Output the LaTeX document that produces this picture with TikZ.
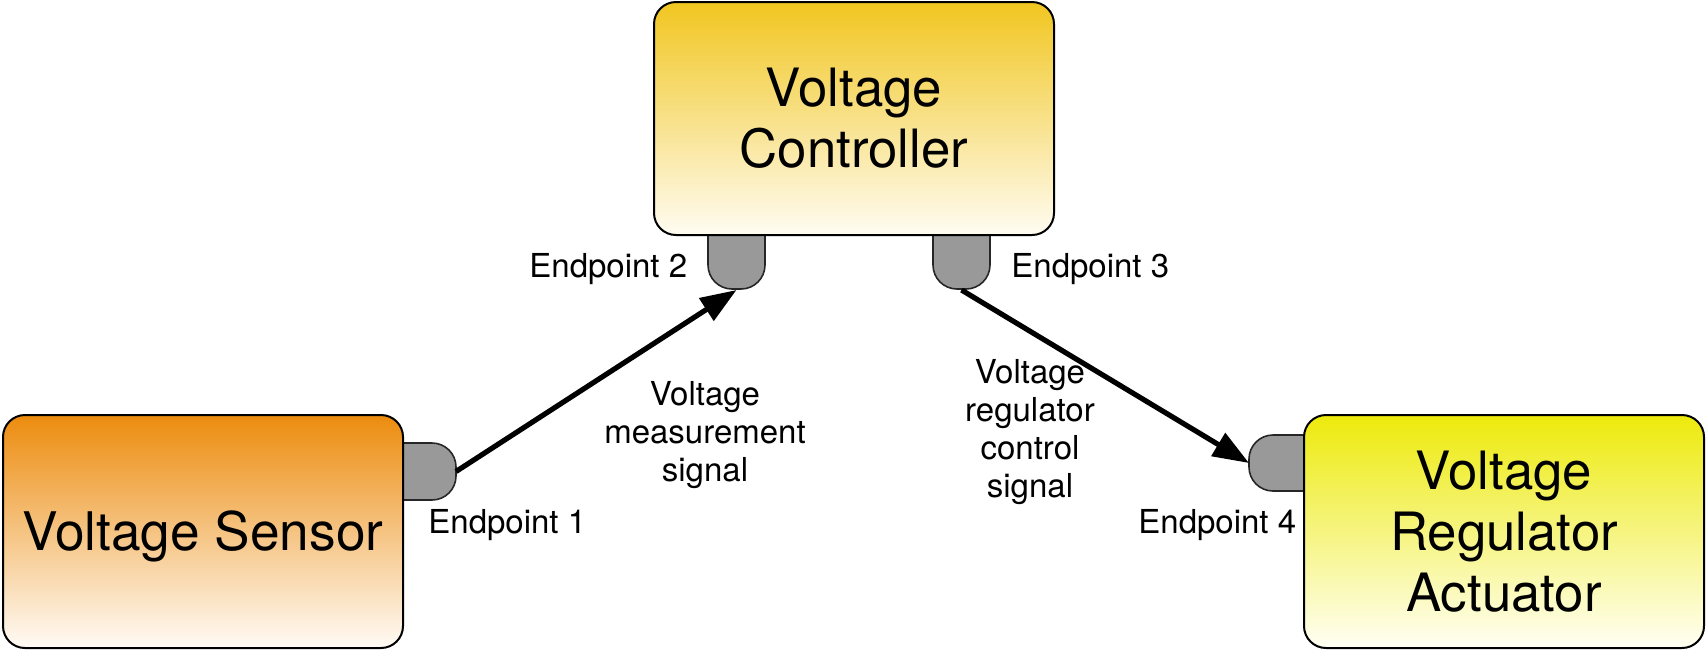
\documentclass[tikz,border=0pt]{standalone}
\usepackage{fontspec}
\setmainfont{TeX Gyre Heros}
\usetikzlibrary{arrows.meta}
\definecolor{sensortop}{RGB}{236,140,14}
\definecolor{sensorbot}{RGB}{255,251,246}
\definecolor{ctrltop}{RGB}{241,198,32}
\definecolor{ctrlbot}{RGB}{255,252,242}
\definecolor{acttop}{RGB}{237,234,12}
\definecolor{actbot}{RGB}{255,255,244}
\definecolor{portgray}{RGB}{153,153,153}
\tikzset{
  box/.style={draw=black, line width=1pt, rounded corners=11pt, inner sep=0pt,
    minimum width=200pt, minimum height=116.5pt, align=center,
    font=\fontsize{26.4pt}{30.5pt}\selectfont},
  port/.style={draw=black!85, line width=0.8pt, fill=portgray, rounded corners=12pt},
  eplabel/.style={inner sep=0pt, font=\fontsize{16.5pt}{19pt}\selectfont},
  siglabel/.style={inner sep=0pt, align=center, font=\fontsize{16.5pt}{19pt}\selectfont},
  flow/.style={line width=2.6pt, -{Triangle[length=18pt,width=13pt]}},
}
\begin{document}
\begin{tikzpicture}[x=0.5pt,y=-0.5pt]
\useasboundingbox (0,0) rectangle (1707,650);
% ports (drawn under the boxes)
\draw[port] (390,443) -- (456,443) -- (456,500) -- (390,500);
\draw[port] (708,225) -- (708,289) -- (765,289) -- (765,225);
\draw[port] (933,225) -- (933,289) -- (990,289) -- (990,225);
\draw[port] (1318,435) -- (1249,435) -- (1249,491) -- (1318,491);
\coordinate (ep1) at (456,471.5);
\coordinate (ep2) at (736.5,290);
\coordinate (ep3) at (961.5,290);
\coordinate (ep4) at (1249,463);
% boxes
\node[box, top color=sensortop, bottom color=sensorbot,
  font=\fontsize{26.6pt}{30.5pt}\selectfont, text height=19.1pt, text depth=0pt]
  (sensor) at (203,531.5) {Voltage Sensor};
\node[box, top color=ctrltop, bottom color=ctrlbot] (ctrl) at (854,118.5) {Voltage\\Controller};
\node[box, top color=acttop, bottom color=actbot] (act) at (1504,531.5) {Voltage\\Regulator\\Actuator};
% endpoint labels
\node[eplabel, anchor=base west] (l1) at (428,533) {Endpoint 1};
\node[eplabel, anchor=base west] (l2) at (529,277) {Endpoint 2};
\node[eplabel, anchor=base west] (l3) at (1011,277) {Endpoint 3};
\node[eplabel, anchor=base west] (l4) at (1138,533) {Endpoint 4};
% signal labels
\node[siglabel, anchor=north] (s1) at (705,381) {Voltage\\measurement\\signal};
\node[siglabel, anchor=north] (s2) at (1030,359) {Voltage\\regulator\\control\\signal};
% flows
\draw[flow] (ep1) -- (ep2);
\draw[flow] (ep3) -- (ep4);
\end{tikzpicture}
\end{document}
